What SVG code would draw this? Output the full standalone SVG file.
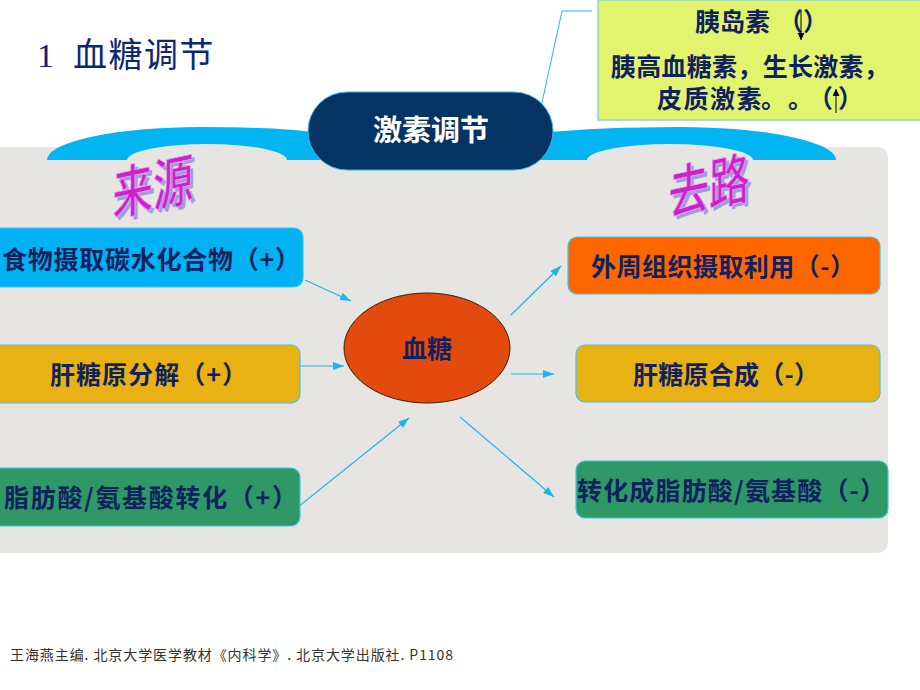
<svg xmlns="http://www.w3.org/2000/svg" width="920" height="690" viewBox="0 0 920 690">
<defs>
<style>
.cjk{font-family:"Noto Sans CJK SC","Liberation Sans",sans-serif;}
.box{stroke:#3FC3EE;stroke-width:1.2;}
.lbl{font-family:"Noto Sans CJK SC","Liberation Sans",sans-serif;font-weight:bold;font-size:25px;fill:#10215F;}
.conn{stroke:#1EB4EE;stroke-width:1.2;fill:none;}
.art{font-family:"Noto Sans CJK SC",sans-serif;font-size:46px;font-weight:500;}
</style>
<marker id="ah" markerUnits="userSpaceOnUse" markerWidth="11" markerHeight="8" refX="11" refY="4" orient="auto">
<path d="M0,0 L11,4 L0,8 Z" fill="#1EB4EE"/>
</marker>
<marker id="ahk" markerUnits="userSpaceOnUse" markerWidth="7" markerHeight="9" refX="7" refY="3.5" orient="auto">
<path d="M0,0 L7,3.5 L0,7 Z" fill="#000"/>
</marker>
</defs>
<rect width="920" height="690" fill="#FFFFFF"/>

<g id="title">
<text x="37" y="67" font-family="Liberation Serif,serif" font-size="34" fill="#0E2773">1</text>
<text x="73" y="67" class="cjk" font-size="34" letter-spacing="1.5" fill="#0E2773">血糖调节</text>
</g>

<g id="panel">
<rect x="-20" y="147" width="908" height="406" rx="10" fill="#E6E5E1"/>
<path d="M47,160 A153,33 0 0 1 200,127 Q280,127 320,133 L540,133 Q600,127 680,127 A156,33 0 0 1 836,160 Z" fill="#00B5F2"/>
<path d="M127,160 A80,16 0 0 1 287,160 Z" fill="#E6E5E1"/>
<path d="M587,160 A83,16 0 0 1 753,160 Z" fill="#E6E5E1"/>
</g>

<g id="callout-line">
<polyline points="532,148 562,11 592,11" fill="none" stroke="#29B6E8" stroke-width="1"/>
</g>

<g id="hormone">
<rect x="308" y="92" width="245" height="78" rx="39" fill="#043464" stroke="#3BB5E8" stroke-width="1"/>
<text x="431" y="141" class="cjk" font-size="29" font-weight="bold" fill="#FFFFFF" text-anchor="middle">激素调节</text>
</g>

<g id="callout">
<rect x="598" y="0" width="330" height="120" fill="#E2F46E" stroke="#8FD4C0" stroke-width="1.5"/>
<text x="695" y="31" class="lbl" font-size="24">胰岛素<tspan x="778">（</tspan><tspan x="803">）</tspan></text>
<line x1="801" y1="11" x2="801" y2="40" stroke="#000" stroke-width="1" marker-end="url(#ahk)"/>
<text x="750" y="76" class="lbl" font-size="24" text-anchor="middle" letter-spacing="0.3">胰高血糖素，生长激素，</text>
<text x="657" y="108" class="lbl" font-size="24" letter-spacing="1.5">皮质激素<tspan x="761">。</tspan><tspan x="788">。</tspan><tspan x="808">（</tspan><tspan x="838">）</tspan></text>
<line x1="836" y1="113" x2="836" y2="89" stroke="#000" stroke-width="1" marker-end="url(#ahk)"/>
</g>

<g id="laiyuan">
<g transform="translate(153,190) rotate(-12) skewX(-12) scale(0.9,1.2)">
<text x="3" y="17" class="art" fill="#9E9EDC" text-anchor="middle">来源</text>
<text x="0" y="14" class="art" fill="#CC22CC" stroke="#E8A8F0" stroke-width="0.6" text-anchor="middle">来源</text>
</g>
</g>
<g id="qulu">
<g transform="translate(709,189) rotate(-12) skewX(-12) scale(0.9,1.2)">
<text x="3" y="17" class="art" fill="#9E9EDC" text-anchor="middle">去路</text>
<text x="0" y="14" class="art" fill="#CC22CC" stroke="#E8A8F0" stroke-width="0.6" text-anchor="middle">去路</text>
</g>
</g>

<g id="connectors">
<line class="conn" x1="305" y1="280" x2="351" y2="301" marker-end="url(#ah)"/>
<line class="conn" x1="293" y1="366" x2="344" y2="366" marker-end="url(#ah)"/>
<line class="conn" x1="293" y1="511" x2="409" y2="418" marker-end="url(#ah)"/>
<line class="conn" x1="511" y1="315" x2="561" y2="266" marker-end="url(#ah)"/>
<line class="conn" x1="511" y1="374" x2="554" y2="374" marker-end="url(#ah)"/>
<line class="conn" x1="460" y1="417" x2="554" y2="497" marker-end="url(#ah)"/>
</g>

<g id="src1">
<rect class="box" x="-10" y="228" width="313" height="59" rx="9" fill="#00B2F2"/>
<text class="lbl" x="2" y="269" textLength="298" lengthAdjust="spacing">食物摄取碳水化合物（+）</text>
</g>
<g id="src2">
<rect class="box" x="-10" y="345" width="310" height="58" rx="9" fill="#E9B214"/>
<text class="lbl" x="50" y="384" textLength="197" lengthAdjust="spacing">肝糖原分解（+）</text>
</g>
<g id="src3">
<rect class="box" x="-10" y="468" width="310" height="58" rx="9" fill="#2F9867"/>
<text class="lbl" x="4" y="507" textLength="293" lengthAdjust="spacing">脂肪酸/氨基酸转化（+）</text>
</g>

<g id="glucose">
<ellipse cx="427" cy="348" rx="83" ry="55" fill="#E24A0E" stroke="#3A2010" stroke-width="1"/>
<text class="lbl" x="427" y="358" text-anchor="middle">血糖</text>
</g>

<g id="out1">
<rect class="box" x="568" y="237" width="312" height="57" rx="9" fill="#FF6600"/>
<text class="lbl" x="591" y="276" textLength="264" lengthAdjust="spacing">外周组织摄取利用（-）</text>
</g>
<g id="out2">
<rect class="box" x="576" y="345" width="304" height="57" rx="9" fill="#E9B214"/>
<text class="lbl" x="633" y="384" textLength="186" lengthAdjust="spacing">肝糖原合成（-）</text>
</g>
<g id="out3">
<rect class="box" x="576" y="461" width="312" height="57" rx="9" fill="#2F9867"/>
<text class="lbl" x="577" y="500" textLength="308" lengthAdjust="spacing">转化成脂肪酸/氨基酸（-）</text>
</g>

<g id="footnote">
<text x="10" y="660" class="cjk" font-size="14" fill="#333333" textLength="443" lengthAdjust="spacing">王海燕主编. 北京大学医学教材《内科学》. 北京大学出版社. P1108</text>
</g>
</svg>
